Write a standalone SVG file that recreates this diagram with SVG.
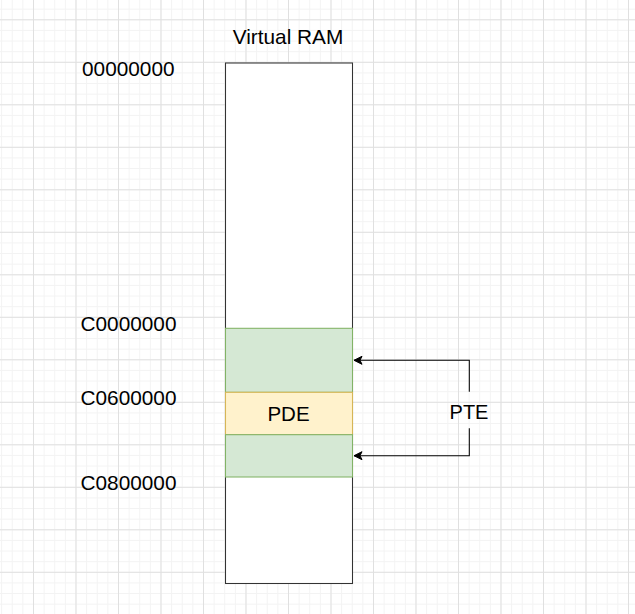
<svg xmlns="http://www.w3.org/2000/svg" width="635" height="614" viewBox="0 0 635 614">
<style>
.t{font-family:"Liberation Sans",Arial,sans-serif;fill:#000;}
.conn{fill:none;stroke:#000;stroke-width:1.06;}
</style>
<defs>
<pattern id="minor" x="33" y="19.3" width="10.625" height="10.625" patternUnits="userSpaceOnUse">
<path d="M0 0.5H10.625M0.5 0V10.625" fill="none" stroke="#f3f3f3" stroke-width="1"/>
</pattern>
<pattern id="major" x="33" y="19.3" width="42.5" height="42.5" patternUnits="userSpaceOnUse">
<path d="M0 0.5H42.5M0.5 0V42.5" fill="none" stroke="#e0e0e0" stroke-width="1"/>
</pattern>
<marker id="arr" markerWidth="10" markerHeight="10" refX="9" refY="5" orient="auto" markerUnits="userSpaceOnUse">
<path d="M9 5L1 1L3 5L1 9Z" fill="#000" stroke="#000" stroke-width="1"/>
</marker>
</defs>
<rect width="635" height="614" fill="#fff"/>
<rect width="635" height="614" fill="url(#minor)"/>
<rect width="635" height="614" fill="url(#major)"/>

<g id="ram">
<rect x="225.5" y="63" width="127" height="520.5" fill="#fff" stroke="#333" stroke-width="1.06"/>
<text class="t" x="288" y="44" font-size="20.8" text-anchor="middle">Virtual RAM</text>
</g>
<g id="pte-upper">
<rect x="225.5" y="328.3" width="127" height="64" fill="#d5e8d4" stroke="#82b366" stroke-width="1.06"/>
</g>
<g id="pde">
<rect x="225.5" y="392.3" width="127" height="42.4" fill="#fff2cc" stroke="#d6b656" stroke-width="1.06"/>
<text class="t" x="288.5" y="421" font-size="20.5" text-anchor="middle">PDE</text>
</g>
<g id="pte-lower">
<rect x="225.5" y="434.7" width="127" height="42.3" fill="#d5e8d4" stroke="#82b366" stroke-width="1.06"/>
</g>
<g id="labels">
<text class="t" x="82" y="76" font-size="20.8">00000000</text>
<text class="t" x="80.5" y="331" font-size="20.8">C0000000</text>
<text class="t" x="80.5" y="405" font-size="20.8">C0600000</text>
<text class="t" x="80.5" y="490" font-size="20.8">C0800000</text>
</g>
<g id="connectors">
<path class="conn" d="M469.3 391.7V360.3H354" marker-end="url(#arr)"/>
<path class="conn" d="M469.3 428.3V455.7H354" marker-end="url(#arr)"/>
<text class="t" x="469" y="418.5" font-size="20" text-anchor="middle">PTE</text>
</g>
</svg>
